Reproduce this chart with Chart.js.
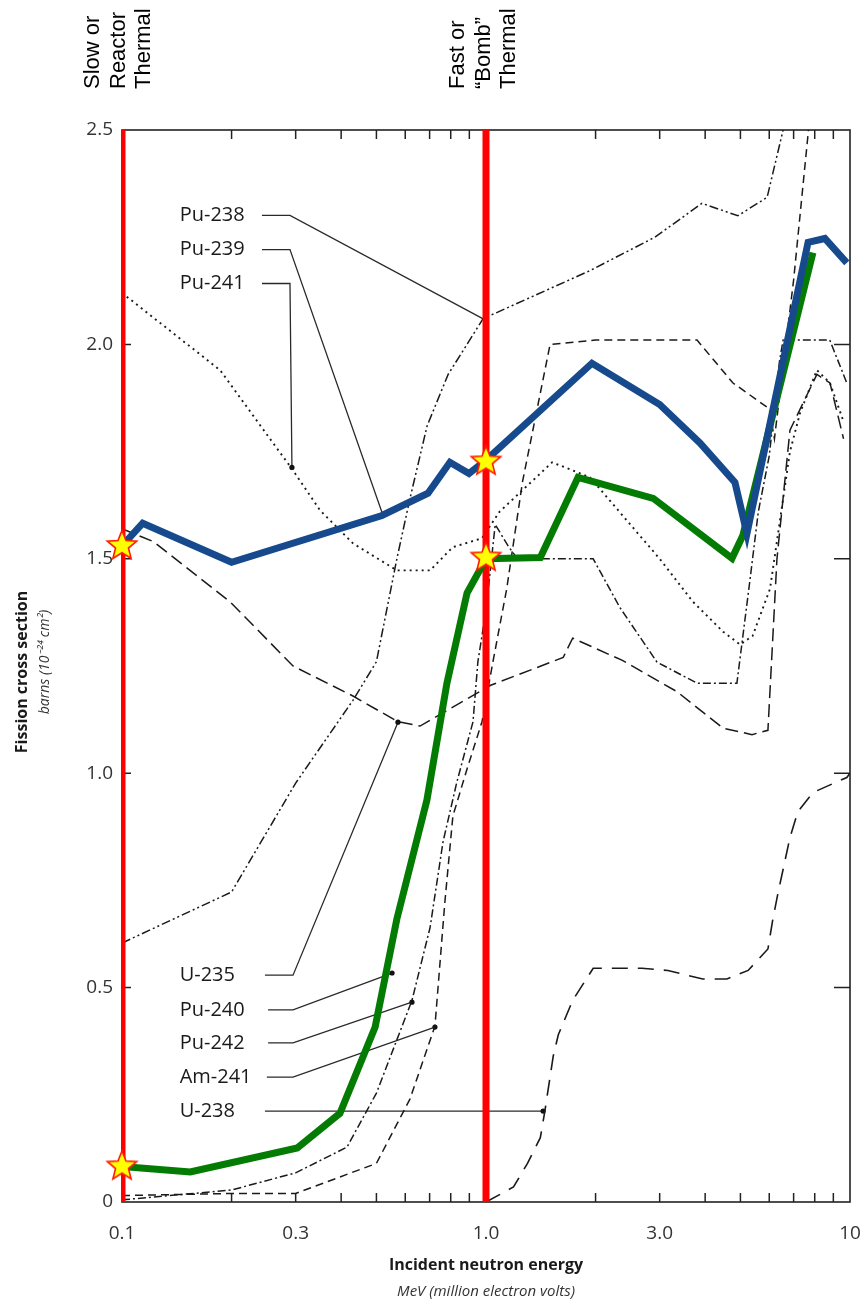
<!DOCTYPE html>
<html><head><meta charset="utf-8">
<script src="https://cdn.jsdelivr.net/npm/chart.js@4"></script>
<style>html,body{margin:0;padding:0;background:#fff;}#wrap{width:866px;height:1304px;}</style>
</head><body><div id="wrap"><canvas id="c" width="866" height="1304"></canvas></div>
<script>
// ---------- DATA ----------
const xTicks = [0.1, 0.3, 1.0, 3.0, 10];
const xTickLabels = ['0.1', '0.3', '1.0', '3.0', '10'];
const yTicks = [0, 0.5, 1.0, 1.5, 2.0, 2.5];
const yTickLabels = ['0', '0.5', '1.0', '1.5', '2.0', '2.5'];
const xMinor = [0.2,0.3,0.4,0.5,0.6,0.7,0.8,0.9,2,3,4,5,6,7,8,9];
const yMinor = [0.5,1.0,1.5,2.0];

// highlighted series
const pu239E = [0.1, 0.114, 0.2, 0.518, 0.693, 0.796, 0.898, 1.0, 1.955, 3.0, 3.87, 4.83, 5.21, 7.67, 8.53, 9.8];
const pu239V = [1.53, 1.583, 1.492, 1.601, 1.653, 1.725, 1.699, 1.73, 1.956, 1.86, 1.77, 1.678, 1.559, 2.238, 2.247, 2.19];
const pu240E = [0.1, 0.154, 0.303, 0.397, 0.496, 0.569, 0.688, 0.781, 0.887, 1.0, 1.41, 1.79, 2.88, 4.74, 5.08, 7.91];
const pu240V = [0.083, 0.07, 0.126, 0.207, 0.408, 0.66, 0.937, 1.21, 1.42, 1.50, 1.503, 1.69, 1.641, 1.501, 1.555, 2.214];

// grey reference curves
const pu238E = [0.1, 0.2, 0.3, 0.431, 0.5, 0.569, 0.618, 0.689, 0.787, 0.982, 1.93, 2.91, 3.92, 4.92, 5.92, 6.55, 7.0];
const pu238V = [0.604, 0.723, 0.977, 1.17, 1.26, 1.50, 1.64, 1.81, 1.93, 2.06, 2.172, 2.25, 2.329, 2.30, 2.343, 2.5, 2.75];
const pu241E = [0.1, 0.186, 0.26, 0.293, 0.35, 0.431, 0.569, 0.702, 0.81, 0.975, 1.09, 1.52, 1.93, 3.0, 3.7, 4.48, 4.99, 5.4, 6.03, 6.84, 7.29, 8.11, 8.81, 9.6];
const pu241V = [2.12, 1.94, 1.77, 1.71, 1.613, 1.536, 1.473, 1.473, 1.527, 1.548, 1.61, 1.725, 1.69, 1.50, 1.40, 1.33, 1.30, 1.32, 1.43, 1.75, 1.84, 1.94, 1.91, 1.82];
const u235E = [0.1, 0.122, 0.198, 0.295, 0.431, 0.573, 0.659, 1.03, 1.63, 1.73, 2.37, 3.35, 4.48, 5.38, 5.95, 6.3, 6.84, 8.11, 8.81, 9.6];
const u235V = [1.57, 1.54, 1.40, 1.25, 1.18, 1.12, 1.11, 1.205, 1.27, 1.315, 1.263, 1.19, 1.105, 1.09, 1.10, 1.50, 1.80, 1.93, 1.91, 1.78];
const pu242E = [0.1, 0.2, 0.3, 0.415, 0.5, 0.626, 0.702, 0.762, 0.832, 0.921, 0.95, 1.0, 1.06, 1.15, 1.22, 1.97, 2.33, 2.95, 3.8, 4.89, 5.31, 5.6, 6.0, 6.4, 6.55, 8.8, 9.8];
const pu242V = [0.005, 0.028, 0.068, 0.128, 0.254, 0.47, 0.64, 0.84, 0.98, 1.12, 1.26, 1.38, 1.58, 1.53, 1.5, 1.5, 1.387, 1.259, 1.21, 1.21, 1.45, 1.61, 1.74, 1.96, 2.01, 2.01, 1.91];
const am241E = [0.1, 0.2, 0.3, 0.5, 0.618, 0.724, 0.771, 0.811, 0.887, 0.975, 1.045, 1.14, 1.26, 1.5, 2.0, 3.0, 3.8, 4.77, 6.0, 6.2, 7.0, 7.9];
const am241V = [0.015, 0.02, 0.02, 0.09, 0.24, 0.41, 0.70, 0.90, 1.01, 1.12, 1.26, 1.43, 1.68, 2.0, 2.01, 2.01, 2.01, 1.91, 1.85, 1.78, 2.15, 2.6];
const u238E = [1.0, 1.19, 1.30, 1.41, 1.45, 1.53, 1.58, 1.73, 1.97, 2.68, 3.16, 3.94, 4.59, 5.25, 5.95, 6.14, 6.34, 6.84, 7.19, 7.91, 9.8, 10];
const u238V = [0, 0.035, 0.09, 0.15, 0.21, 0.34, 0.39, 0.47, 0.545, 0.545, 0.54, 0.52, 0.52, 0.54, 0.59, 0.66, 0.72, 0.85, 0.91, 0.955, 0.99, 1.0];

// markers
const starE = [0.1, 1.0, 1.0, 0.1];
const starV = [1.53, 1.727, 1.503, 0.083];
const markerE = [0.1, 1.0];   // vertical red lines
const yRange = [0, 2.5];

// ---------- helpers ----------
const pts = (xs, ys) => xs.map((x, i) => ({x, y: ys[i]}));
const GREY = '#1a1a1a';

const starImg = (() => {
  const c = document.createElement('canvas'); c.width = 34; c.height = 34;
  const g = c.getContext('2d');
  g.beginPath();
  for (let i = 0; i < 10; i++) {
    const r = i % 2 ? 6.8 : 15.5;
    const a = -Math.PI / 2 + i * Math.PI / 5;
    g.lineTo(17 + r * Math.cos(a), 17 + r * Math.sin(a));
  }
  g.closePath(); g.fillStyle = '#ffff00'; g.fill();
  g.strokeStyle = '#ff1a00'; g.lineWidth = 1.6; g.stroke();
  return c;
})();

function greyDs(label, xs, ys, dash, width, order) {
  return {label, data: pts(xs, ys), showLine: true, pointRadius: 0, borderColor: GREY,
    borderWidth: width || 1.4, borderDash: dash, fill: false, tension: 0, order};
}

const datasets = [
  {label: 'stars', data: pts(starE, starV), showLine: false, pointStyle: starImg, pointRadius: 15, order: 0, clip: false},
  {label: 'Pu-239', data: pts(pu239E, pu239V), showLine: true, pointRadius: 0, borderColor: '#164a8d',
    borderWidth: 7, borderJoinStyle: 'miter', borderCapStyle: 'butt', tension: 0, order: 1},
  {label: 'Pu-240', data: pts(pu240E, pu240V), showLine: true, pointRadius: 0, borderColor: '#047c04',
    borderWidth: 7, borderJoinStyle: 'miter', tension: 0, order: 2},
  ...markerE.map((e, i) => ({label: 'marker' + i, data: [{x: e, y: yRange[0]}, {x: e, y: yRange[1]}],
    showLine: true, pointRadius: 0, borderColor: '#ff0000', borderWidth: 7, order: 3})),
  greyDs('Pu-238', pu238E, pu238V, [9, 3, 2, 3, 2, 3], 1.5, 5),
  greyDs('Pu-241', pu241E, pu241V, [2, 4], 1.9, 6),
  greyDs('U-235', u235E, u235V, [13, 6], 1.5, 7),
  greyDs('Pu-242', pu242E, pu242V, [8, 3, 2, 3], 1.5, 8),
  greyDs('Am-241', am241E, am241V, [8, 5], 1.5, 9),
  greyDs('U-238', u238E, u238V, [16, 10], 1.6, 10),
];

// annotation labels (data coordinates)
const labelAnn = [
  {t: 'Pu-238', at: [0.144, 2.301], path: [[0.2424, 2.301], [0.2894, 2.301], [1.0, 2.056]], dot: false},
  {t: 'Pu-239', at: [0.144, 2.221], path: [[0.2424, 2.221], [0.2894, 2.221], [0.518, 1.608]], dot: false},
  {t: 'Pu-241', at: [0.144, 2.142], path: [[0.2424, 2.142], [0.2894, 2.142], [0.293, 1.713]], dot: true},
  {t: 'U-235', at: [0.144, 0.529], path: [[0.247, 0.529], [0.295, 0.529], [0.573, 1.119]], dot: true},
  {t: 'Pu-240', at: [0.144, 0.448], path: [[0.252, 0.448], [0.295, 0.448], [0.552, 0.534]], dot: true},
  {t: 'Pu-242', at: [0.144, 0.371], path: [[0.252, 0.371], [0.295, 0.371], [0.626, 0.466]], dot: true},
  {t: 'Am-241', at: [0.144, 0.291], path: [[0.250, 0.291], [0.295, 0.291], [0.724, 0.408]], dot: true},
  {t: 'U-238', at: [0.144, 0.212], path: [[0.247, 0.212], [1.435, 0.212]], dot: true},
];

const deco = {
  id: 'deco',
  beforeDatasetsDraw(chart) {
    const {ctx, chartArea: a, scales: {x, y}} = chart;
    ctx.save();
    ctx.strokeStyle = '#222'; ctx.lineWidth = 1.6;
    ctx.strokeRect(a.left, a.top, a.right - a.left, a.bottom - a.top);
    ctx.lineWidth = 1.5;
    ctx.beginPath();
    xMinor.forEach(v => {
      const px = x.getPixelForValue(v);
      ctx.moveTo(px, a.bottom); ctx.lineTo(px, a.bottom - 9);
      ctx.moveTo(px, a.top); ctx.lineTo(px, a.top + 9);
    });
    yMinor.forEach(v => {
      const py = y.getPixelForValue(v);
      ctx.moveTo(a.left, py); ctx.lineTo(a.left + 9, py);
      ctx.moveTo(a.right, py); ctx.lineTo(a.right - 16, py);
    });
    ctx.stroke();
    ctx.strokeStyle = '#2a2a2a'; ctx.lineWidth = 1.3; ctx.fillStyle = '#111';
    labelAnn.forEach(l => {
      ctx.beginPath();
      l.path.forEach((p, i) => {
        const px = x.getPixelForValue(p[0]), py = y.getPixelForValue(p[1]);
        i ? ctx.lineTo(px, py) : ctx.moveTo(px, py);
      });
      ctx.stroke();
      if (l.dot) {
        const p = l.path[l.path.length - 1];
        ctx.beginPath();
        ctx.arc(x.getPixelForValue(p[0]), y.getPixelForValue(p[1]), 2.6, 0, Math.PI * 2);
        ctx.fill();
      }
    });
    ctx.restore();
  },
  afterDraw(chart) {
    const {ctx, chartArea: a, scales: {x, y}} = chart;
    ctx.save();
    ctx.fillStyle = '#1a1a1a';
    ctx.font = '20px "Open Sans"';
    ctx.textAlign = 'left'; ctx.textBaseline = 'middle';
    labelAnn.forEach(l => ctx.fillText(l.t, x.getPixelForValue(l.at[0]), y.getPixelForValue(l.at[1])));
    const vtext = (t, px, py) => {
      ctx.save(); ctx.translate(px, py); ctx.rotate(-Math.PI / 2);
      ctx.textAlign = 'left'; ctx.textBaseline = 'middle'; ctx.fillText(t, 0, 0); ctx.restore();
    };
    ctx.fillStyle = '#000';
    ctx.font = '22px "Liberation Sans", Arial, sans-serif';
    const x1 = x.getPixelForValue(markerE[0]), x2 = x.getPixelForValue(markerE[1]);
    vtext('Slow or', x1 - 29, 89); vtext('Reactor', x1 - 3, 89); vtext('Thermal', x1 + 22, 89);
    vtext('Fast or', x2 - 28, 89); vtext('\u201CBomb\u201D', x2 - 2, 89); vtext('Thermal', x2 + 23, 89);
    ctx.fillStyle = '#1a1a1a';
    ctx.textAlign = 'center';
    ctx.font = 'bold 16px "Open Sans"';
    const cx = (a.left + a.right) / 2;
    ctx.fillText('Incident neutron energy', cx, 1265);
    ctx.font = 'italic 15px "Open Sans"';
    ctx.fillStyle = '#333';
    ctx.fillText('MeV (million electron volts)', cx, 1292);
    ctx.save(); ctx.translate(22, 672); ctx.rotate(-Math.PI / 2);
    ctx.fillStyle = '#1a1a1a'; ctx.font = 'bold 16px "Open Sans"'; ctx.textAlign = 'center'; ctx.textBaseline = 'middle';
    ctx.fillText('Fission cross section', 0, 0);
    ctx.restore();
    ctx.save(); ctx.translate(45, 662); ctx.rotate(-Math.PI / 2);
    ctx.fillStyle = '#333'; ctx.font = 'italic 14px "Open Sans"'; ctx.textAlign = 'center'; ctx.textBaseline = 'middle';
    ctx.fillText('barns (10\u207B\u00B2\u2074 cm\u00B2)', 0, 0);
    ctx.restore();
    ctx.restore();
  }
};

new Chart(document.getElementById('c'), {
  type: 'scatter',
  data: {datasets},
  options: {
    responsive: false, animation: false, devicePixelRatio: 1,
    layout: {padding: {left: 0, right: 16, top: 130, bottom: 0}},
    plugins: {legend: {display: false}, tooltip: {enabled: false}, title: {display: false}},
    scales: {
      x: {
        type: 'logarithmic', min: 0.1, max: 10, position: 'bottom',
        grid: {display: false, drawTicks: false}, border: {display: false},
        afterBuildTicks: s => { s.ticks = xTicks.map(v => ({value: v})); },
        afterFit: s => { s.height = 102; s.paddingLeft = 0; s.paddingRight = 0; },
        ticks: {
          autoSkip: false, maxRotation: 0, padding: 20, color: '#333',
          font: {family: '"Open Sans"', size: 19},
          callback: (v) => { const i = xTicks.indexOf(v); return i >= 0 ? xTickLabels[i] : ''; }
        }
      },
      y: {
        type: 'linear', min: 0, max: 2.5,
        grid: {display: false, drawTicks: false}, border: {display: false},
        afterBuildTicks: s => { s.ticks = yTicks.map(v => ({value: v})); },
        afterFit: s => { s.width = 122; s.paddingTop = 0; s.paddingBottom = 0; },
        ticks: {
          padding: 9, color: '#333', font: {family: '"Open Sans"', size: 19},
          callback: (v) => { const i = yTicks.indexOf(v); return i >= 0 ? yTickLabels[i] : ''; }
        }
      }
    }
  },
  plugins: [deco]
});
</script>
</body></html>
